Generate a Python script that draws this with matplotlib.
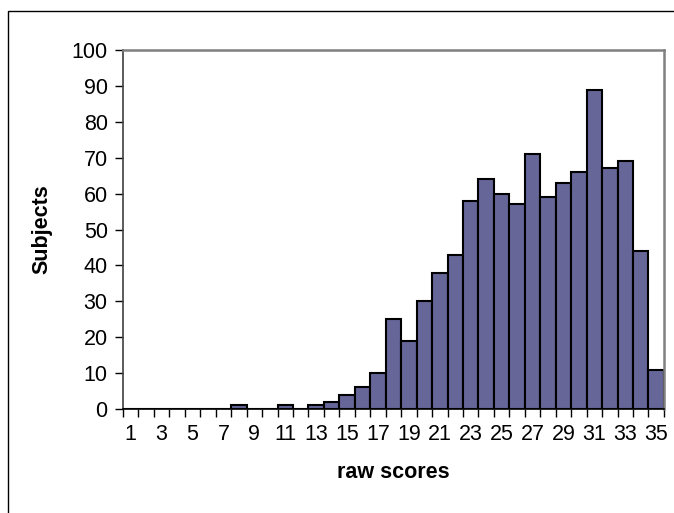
import matplotlib
matplotlib.use("Agg")
import matplotlib.pyplot as plt
from matplotlib.patches import Rectangle
import numpy as np

plt.rcParams['font.family'] = ['Liberation Sans', 'DejaVu Sans']

# raw score categories and number of subjects per score
scores = list(range(1, 36))
subjects = [0, 0, 0, 0, 0, 0, 0, 1, 0, 0,
            1, 0, 1, 2, 4, 6, 10, 25, 19, 30,
            38, 43, 58, 64, 60, 57, 71, 59, 63, 66,
            89, 67, 69, 44, 11]

bar_color = "#666699"

fig = plt.figure(figsize=(6.74, 5.13), dpi=100)
ax = fig.add_axes([0.1825, 0.2027, 0.8025, 0.6998])

ax.bar(scores, subjects, width=1.0, color=bar_color,
       edgecolor="black", linewidth=1.5, zorder=2)

ax.set_xlim(0.5, 35.5)
ax.set_ylim(0, 100)

# y axis
ax.set_yticks(np.arange(0, 101, 10))
ax.tick_params(axis="y", direction="out", length=6, width=1, color="black",
               labelsize=15.5, pad=5)

# x axis: ticks on bin edges, labels on every other category
ax.set_xticks(np.arange(0.5, 36, 1.0))
ax.set_xticklabels([])
ax.set_xticks(scores[::2], minor=True)
ax.set_xticklabels([str(s) for s in scores[::2]], minor=True)
ax.tick_params(axis="x", which="major", direction="out", length=6, width=1, color="black")
ax.tick_params(axis="x", which="minor", length=0, labelsize=15.5, pad=11)

ax.set_xlabel("raw scores", fontsize=15.5, fontweight="bold", labelpad=12)
ax.set_ylabel("Subjects", fontsize=15.5, fontweight="bold", labelpad=14)

for side in ["top", "right"]:
    ax.spines[side].set_color("#808080")
    ax.spines[side].set_linewidth(1.8)
ax.spines["left"].set_color("#404040")
ax.spines["left"].set_linewidth(1.2)
ax.spines["bottom"].set_color("black")
ax.spines["bottom"].set_linewidth(1.2)

# outer chart border (runs off the right and bottom edges)
fig.patches.append(Rectangle((0.0119, -0.05), 1.2, 0.9786 + 0.05,
                             transform=fig.transFigure, fill=False,
                             edgecolor="black", linewidth=1.0))

fig.savefig("out.png", dpi=100)
